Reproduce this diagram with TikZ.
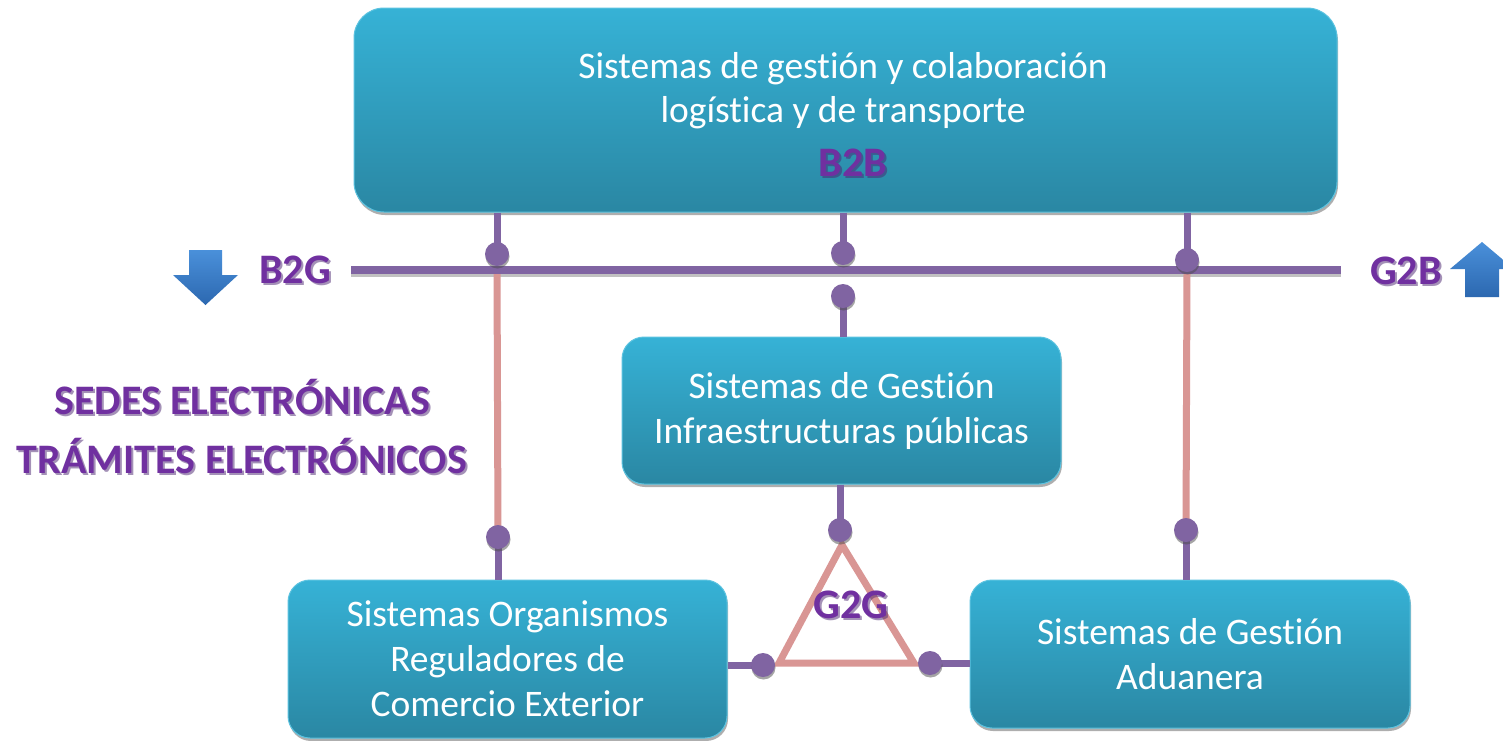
\documentclass[tikz,border=0pt]{standalone}
\usepackage{fontspec}
\setmainfont{Carlito}[Ligatures=NoCommon]
\usetikzlibrary{shadows}
\definecolor{boxtop}{HTML}{36B2D6}
\definecolor{boxbot}{HTML}{2A87A3}
\definecolor{boxedge}{HTML}{5CC3E0}
\definecolor{lilac}{HTML}{8064A2}
\definecolor{rosy}{HTML}{D99694}
\definecolor{labelpurple}{HTML}{7030A0}
\definecolor{labelshadow}{HTML}{4A2570}
\definecolor{arrowtop}{HTML}{4A90DA}
\definecolor{arrowbot}{HTML}{2C68B0}
\tikzset{
  sysbox/.style={rectangle, rounded corners=#1, draw=boxedge, line width=1pt,
    top color=boxtop, bottom color=boxbot, text=white, align=center,
    font=\fontsize{37.5}{45}\selectfont,
    drop shadow={shadow xshift=1pt, shadow yshift=-3pt, opacity=0.45, fill=black!70}},
  dot/.style={circle, fill=lilac, minimum size=24pt, inner sep=0pt,
    drop shadow={shadow xshift=0.5pt, shadow yshift=-2.5pt, opacity=0.5, fill=black!70}},
  busline/.style={draw=lilac, line width=8pt},
  linkline/.style={draw=lilac, line width=7pt},
  pinkline/.style={draw=rosy, line width=7pt},
  lbl/.style={font=\fontsize{42}{59}\selectfont\bfseries, text=labelpurple, align=center},
  lblshadow/.style={font=\fontsize{42}{59}\selectfont\bfseries, text=labelshadow, opacity=0.5, align=center},
  bluearrow/.style={top color=arrowtop, bottom color=arrowbot, draw=none}
}
\begin{document}
\begin{tikzpicture}[x=1pt,y=-1pt]
\useasboundingbox[fill=white] (0,0) rectangle (1503,740);

% boxes
\node[sysbox=30, minimum width=983pt, minimum height=204pt] (top) at (845.5,110) {};
\node[font=\fontsize{37.5}{44}\selectfont, text=white, align=center] (toptext) at (843,91) {Sistemas de gestión y colaboración\\logística y de transporte};
\node[lblshadow] (b2bs) at (855,165) {B2B};
\node[lbl] (b2b) at (853,163) {B2B};

\node[sysbox=22, minimum width=439pt, minimum height=147pt] (mid) at (841.5,410.5)
  {Sistemas de Gestión\\Infraestructuras públicas};
\node[sysbox=22, minimum width=439pt, minimum height=158pt] (bl) at (507.5,659)
  {Sistemas Organismos\\Reguladores de\\Comercio Exterior};
\node[sysbox=22, minimum width=440pt, minimum height=148pt] (br) at (1190,654)
  {Sistemas de Gestión\\Aduanera};

% bus
\coordinate (busL) at (351,270);
\coordinate (busR) at (1341,270);
\begin{scope}[transform canvas={yshift=-3pt}]
\draw[draw=black!60, opacity=0.4, line width=8pt] (busL) -- (busR);
\end{scope}

% dots positions
\coordinate (p1) at (497,254);
\coordinate (p2) at (843,253);
\coordinate (p3) at (1187,260);
\coordinate (p4) at (843,296);
\coordinate (p5) at (498,537);
\coordinate (p6) at (1186,530);
\coordinate (p7) at (840,530);
\coordinate (p8) at (763,665);
\coordinate (p9) at (930,663);

% triangle G2G
\coordinate (ta) at (842,545);
\coordinate (tl) at (779,663);
\coordinate (tr) at (914,663);
\draw[pinkline, line join=miter] (ta) -- (tl) -- (tr) -- cycle;

% pink verticals
\draw[pinkline] (p1 |- busL) -- (p5);
\draw[pinkline] (p3 |- busL) -- (p6);

% purple links
\draw[linkline] (p1 |- top.south) -- (p1);
\draw[linkline] (p2 |- top.south) -- (p2);
\draw[linkline] (p3 |- top.south) -- (p3);
\draw[linkline] (p4) -- (p4 |- mid.north);
\draw[linkline] (p5) -- (p5 |- bl.north);
\draw[linkline] (p6) -- (p6 |- br.north);
\draw[linkline] (p7 |- mid.south) -- (p7);
\draw[linkline] (p8) -- (p8 -| bl.east);
\draw[linkline] (p9) -- (p9 -| br.west);

\draw[busline] (busL) -- (busR);

% dots
\foreach \p in {p1,p2,p3,p4,p5,p6,p7,p8,p9}
  \node[dot] (dot\p) at (\p) {};

% labels
\node[lblshadow] (g2gs) at (853,607) {G2G};
\node[lbl] (g2g) at (851,605) {G2G};
\node[lblshadow] (b2gs) at (297,272) {B2G};
\node[lbl] (b2g) at (295,270) {B2G};
\node[lblshadow] (g2bs) at (1408,273) {G2B};
\node[lbl] (g2b) at (1406,271) {G2B};
\node[lblshadow] (sedess) at (244,428) {SEDES ELECTRÓNICAS\\TRÁMITES ELECTRÓNICOS};
\node[lbl] (sedes) at (242,426) {SEDES ELECTRÓNICAS\\TRÁMITES ELECTRÓNICOS};

% blue arrows
\path[bluearrow] (189,250) -- (222,250) -- (222,275) -- (238,275) -- (205.5,305)
  -- (173,275) -- (189,275) -- cycle;
\path[bluearrow] (1465,297) -- (1499,297) -- (1499,269) -- (1514,269) -- (1482,242)
  -- (1450,269) -- (1465,269) -- cycle;
\end{tikzpicture}
\end{document}
